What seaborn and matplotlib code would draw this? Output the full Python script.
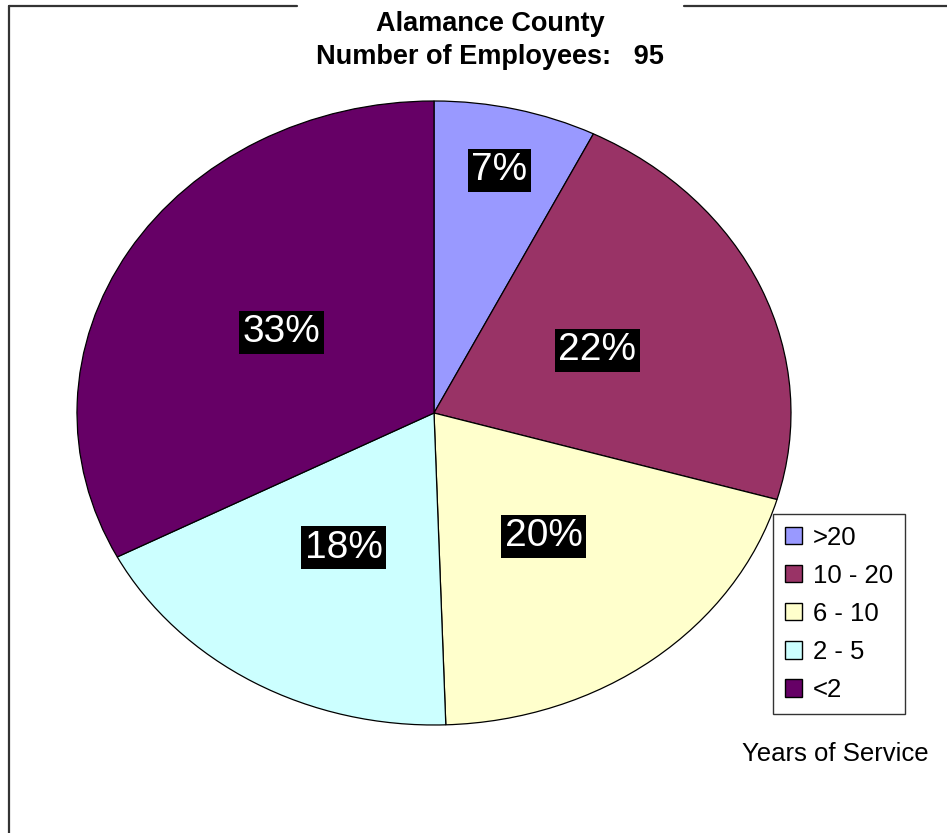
import matplotlib
matplotlib.use("Agg")
import matplotlib.pyplot as plt
from matplotlib.lines import Line2D
import numpy as np
import seaborn as sns

# Employees by years of service
categories = [">20", "10 - 20", "6 - 10", "2 - 5", "<2"]
employees = [7, 21, 19, 17, 31]
slice_colors = ["#9999FF", "#993366", "#FFFFCC", "#CCFFFF", "#660066"]
title_lines = ["Alamance County", "Number of Employees:   95"]
legend_title = "Years of Service"

sns.set_theme(style="white")
plt.rcParams["font.family"] = ["Liberation Sans", "DejaVu Sans"]
plt.rcParams["text.color"] = "black"

W, H = 947, 833
fig = plt.figure(figsize=(W / 100, H / 100), dpi=100)
fig.patch.set_facecolor("white")

# Elliptical pie: axes box spans the ellipse bounds, aspect left free
x0, x1, y0, y1 = 77, 791, 101, 725
ax = fig.add_axes([x0 / W, 1 - y1 / H, (x1 - x0) / W, (y1 - y0) / H])
palette = sns.color_palette(slice_colors)

wedges, texts, autotexts = ax.pie(
    employees,
    colors=palette,
    startangle=90,
    counterclock=False,
    autopct=lambda p: f"{p:.0f}%",
    pctdistance=0.5,
    wedgeprops=dict(edgecolor="black", linewidth=0.9),
    textprops=dict(color="white", fontsize=28),
)
ax.set_aspect("auto")
ax.set_xlim(-1, 1)
ax.set_ylim(-1, 1)
ax.axis("off")

for t in autotexts:
    t.set_bbox(dict(boxstyle="square,pad=0.09", facecolor="black", edgecolor="none"))
    t.set_ha("center")
    t.set_va("center")

# the narrow first slice gets its label further out
w = wedges[0]
mid = np.deg2rad((w.theta1 + w.theta2) / 2)
autotexts[0].set_position((0.8 * np.cos(mid), 0.8 * np.sin(mid)))

# Title
fig.text(490 / W, 1 - 24 / H, title_lines[0], ha="center", va="center",
         fontsize=19.5, fontweight="bold", color="black")
fig.text(490 / W, 1 - 57 / H, title_lines[1], ha="center", va="center",
         fontsize=19.5, fontweight="bold", color="black")

# Outer frame (left edge and top edge, broken around the title)
frame_kw = dict(color="#333333", linewidth=1.6, transform=fig.transFigure)
fig.add_artist(Line2D([9 / W, 9 / W], [1 - 6 / H, 0], **frame_kw))
fig.add_artist(Line2D([9 / W, 297 / W], [1 - 6 / H, 1 - 6 / H], **frame_kw))
fig.add_artist(Line2D([684 / W, 1], [1 - 6 / H, 1 - 6 / H], **frame_kw))

# Legend
leg = fig.legend(
    wedges, categories,
    loc="upper left",
    bbox_to_anchor=(773 / W, 1 - 514 / H),
    frameon=True,
    fancybox=False,
    fontsize=18.5,
    handlelength=0.66,
    handleheight=0.66,
    handletextpad=0.45,
    labelspacing=0.55,
    borderpad=0.45,
    borderaxespad=0,
)
leg.get_frame().set_edgecolor("black")
leg.get_frame().set_linewidth(1.0)
for h in leg.legend_handles:
    h.set_edgecolor("black")
    h.set_linewidth(1.0)
for t in leg.get_texts():
    t.set_color("black")

fig.text(835 / W, 1 - 754 / H, legend_title, ha="center", va="center",
         fontsize=18.5, color="black")

fig.savefig("out.png", dpi=100, facecolor="white")
